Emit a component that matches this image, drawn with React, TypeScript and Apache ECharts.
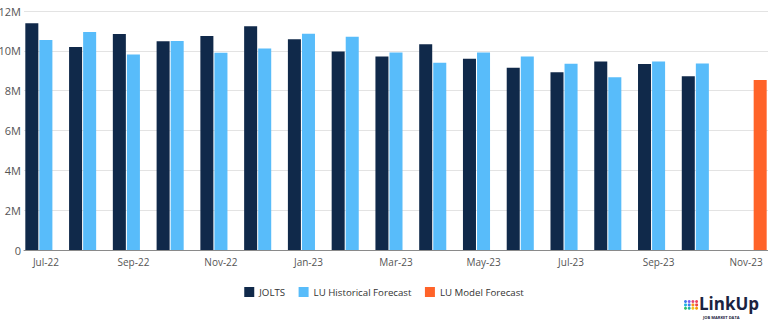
import React, { useEffect, useRef } from "react";
import * as echarts from "echarts";

const categories = [
  "Jul-22", "Aug-22", "Sep-22", "Oct-22", "Nov-22", "Dec-22",
  "Jan-23", "Feb-23", "Mar-23", "Apr-23", "May-23", "Jun-23",
  "Jul-23", "Aug-23", "Sep-23", "Oct-23", "Nov-23",
];

const jolts = [
  11.38, 10.19, 10.84, 10.48, 10.74, 11.23, 10.58, 9.97, 9.72, 10.33,
  9.6, 9.15, 8.92, 9.47, 9.34, 8.72, null,
];

const luHistorical = [
  10.54, 10.94, 9.82, 10.49, 9.9, 10.12, 10.86, 10.71, 9.92, 9.4,
  9.92, 9.72, 9.35, 8.67, 9.47, 9.37, null,
];

const luModel = [
  null, null, null, null, null, null, null, null, null, null,
  null, null, null, null, null, null, 8.53,
];

const toMillions = (arr: (number | null)[]) =>
  arr.map((v) => (v == null ? null : v * 1e6));

const logoColors = [
  "#3d7cf0", "#7b5cf0", "#e0457b", "#f0455a",
  "#1fb4e0", "#3d7cf0", "#f7941d", "#ef4444",
  "#2bbf6a", "#17b3a3", "#f2c21b", "#f59e0b",
];

export default function App() {
  const ref = useRef<HTMLDivElement>(null);

  useEffect(() => {
    if (!ref.current) return;
    const chart = echarts.init(ref.current, undefined, { renderer: "svg" });

    const dots: any[] = logoColors.map((c, i) => ({
      type: "circle",
      shape: { cx: 685.5 + (i % 4) * 3.7, cy: 301.5 + Math.floor(i / 4) * 3.4, r: 1.5 },
      style: { fill: c },
    }));

    chart.setOption({
      animation: false,
      backgroundColor: "#ffffff",
      textStyle: { fontFamily: "Open Sans" },
      grid: {
        left: 24,
        right: 0,
        top: 11,
        bottom: 75,
        containLabel: false,
        outerBoundsMode: "none",
      },
      legend: {
        top: 282,
        left: "center",
        itemWidth: 10,
        itemHeight: 10,
        itemGap: 13.5,
        icon: "rect",
        textStyle: { color: "#333", fontSize: 9.7, fontFamily: "Open Sans" },
        data: ["JOLTS", "LU Historical Forecast", "LU Model Forecast"],
      },
      xAxis: {
        type: "category",
        data: categories,
        axisTick: { show: false },
        axisLine: { lineStyle: { color: "#8a8a8a" } },
        axisLabel: { interval: 1, color: "#555", fontSize: 10, margin: 7 },
      },
      yAxis: {
        type: "value",
        min: 0,
        max: 12e6,
        interval: 2e6,
        axisLabel: {
          color: "#555",
          fontSize: 11,
          margin: 3,
          formatter: (v: number) => (v === 0 ? "0" : v / 1e6 + "M"),
        },
        splitLine: { lineStyle: { color: "#e3e3e3" } },
      },
      series: [
        {
          name: "JOLTS",
          type: "bar",
          data: toMillions(jolts),
          itemStyle: { color: "#10294a" },
          barGap: "8%",
          barCategoryGap: "6%",
        },
        {
          name: "LU Historical Forecast",
          type: "bar",
          data: toMillions(luHistorical),
          itemStyle: { color: "#58bcfa" },
        },
        {
          name: "LU Model Forecast",
          type: "bar",
          data: toMillions(luModel),
          itemStyle: { color: "#ff6329" },
        },
      ],
      graphic: [
        ...dots,
        {
          type: "text",
          left: 699,
          top: 295,
          style: {
            text: "LinkUp",
            fill: "#1b2340",
            font: "bold 17px 'Open Sans'",
          },
        },
        {
          type: "text",
          left: 703,
          top: 315,
          style: {
            text: "JOB MARKET DATA",
            fill: "#1b2340",
            font: "bold 4px 'Open Sans'",
          },
        },
      ],
    });

    return () => chart.dispose();
  }, []);

  return (
    <div
      ref={ref}
      style={{ position: "fixed", left: 0, top: 0, width: 768, height: 325, background: "#fff" }}
    />
  );
}
